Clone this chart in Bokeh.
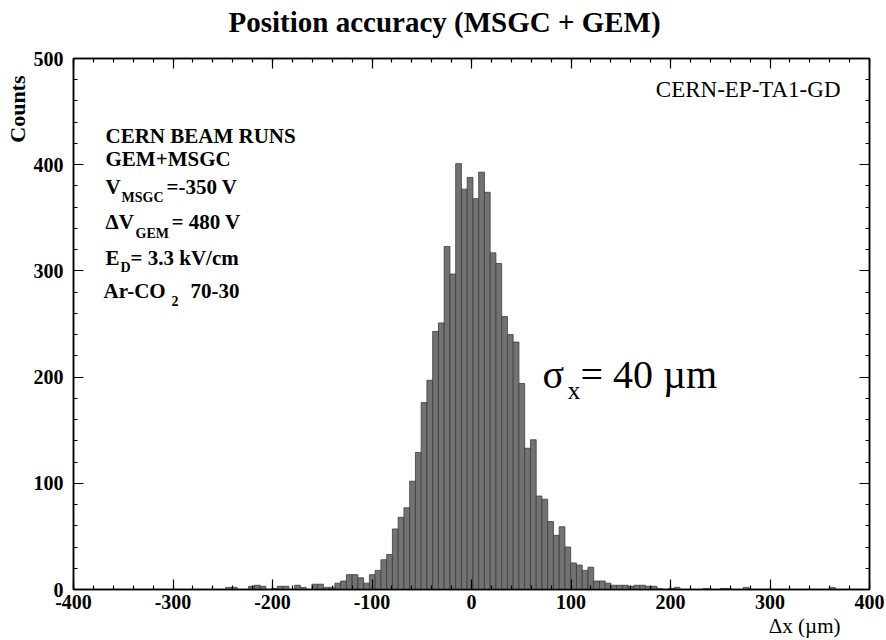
import math
from bokeh.plotting import figure
from bokeh.models import LinearAxis, SingleIntervalTicker, Label, Range1d, ColumnDataSource, Title
from bokeh.embed import file_html
from bokeh.resources import INLINE

# ---------------- data ----------------
BIN_FIRST_EDGE = -247.1   # µm, left edge of the first listed bin
BIN_WIDTH = 5.78          # µm
counts = [
    2, 2, 0, 0, 3, 4, 3, 0, 1, 3,          # k = -40 .. -31
    3, 0, 4, 2, 0, 5, 5, 2, 2, 6,          # k = -30 .. -21
    8, 14, 14, 11, 6, 14, 18, 28, 33, 57,  # k = -20 .. -11
    68, 77, 102, 129, 176, 197, 243, 251, 323, 297,  # k = -10 .. -1
    401, 377, 388, 368, 393, 374, 317, 307, 257, 240,  # k = 0 .. 9
    233, 194, 133, 141, 88, 85, 64, 51, 59, 40,        # k = 10 .. 19
    25, 23, 18, 21, 8, 8, 6, 4, 4, 4,                  # k = 20 .. 29
    3, 4, 4, 3, 3, 1, 0, 1, 2, 0,                      # k = 30 .. 39
    0, 0, 0, 1, 0, 0, 1, 1, 0, 0,                      # k = 40 .. 49
    2, 0, 0, 0, 0, 0, 0, 0, 0, 0,                      # k = 50 .. 59
    0, 0, 0, 0, 0, 2,                                  # k = 60 .. 65
]
x_ticks = [-400, -300, -200, -100, 0, 100, 200, 300, 400]
y_ticks = [0, 100, 200, 300, 400, 500]
x_tick_labels = ["-400", "-300", "-200", "-100", "0", "100", "200", "300", "400"]
title_text = "Position accuracy (MSGC + GEM)"
x_label = "\u0394x (\u00b5m)"
y_label = "Counts"
tag_text = "CERN-EP-TA1-GD"

lefts = [BIN_FIRST_EDGE + i * BIN_WIDTH for i in range(len(counts))]
rights = [l + BIN_WIDTH for l in lefts]
src = ColumnDataSource(dict(left=lefts, right=rights, top=counts, bottom=[0] * len(counts)))

# ---------------- layout ----------------
W, H = 886, 640
BL, BR, BT, BB = 73, 17, 58, 51
XMIN, XMAX, YMIN, YMAX = -400, 400, 0, 500
FW, FH = W - BL - BR, H - BT - BB
TEXT_DY = -10   # empirical correction of label baselines (pixels)

def X(px):
    return (px - BL) * (XMAX - XMIN) / FW + XMIN

def Y(py):
    return (H - BB - (py + TEXT_DY)) * (YMAX - YMIN) / FH + YMIN

p = figure(width=W, height=H, x_range=Range1d(XMIN, XMAX), y_range=Range1d(YMIN, YMAX),
           output_backend="svg", toolbar_location=None, title=None,
           min_border_left=BL, min_border_right=BR, min_border_top=BT, min_border_bottom=BB)
p.background_fill_color = "white"
p.border_fill_color = "white"
p.xgrid.visible = False
p.ygrid.visible = False
p.outline_line_color = "black"
p.outline_line_width = 1.5

p.quad(left="left", right="right", top="top", bottom="bottom", source=src,
       fill_color="#727272", line_color="#3c3c3c", line_width=0.8)

SERIF = "Liberation Serif"

def style_axis(ax, ticks, show_labels):
    ax.ticker = SingleIntervalTicker(interval=100, num_minor_ticks=5)
    ax.axis_line_width = 1.5
    ax.axis_line_color = "black"
    ax.major_tick_in = 10
    ax.major_tick_out = 0
    ax.minor_tick_in = 4
    ax.minor_tick_out = 0
    ax.major_tick_line_width = 1.2
    ax.minor_tick_line_width = 1.2
    ax.major_tick_line_color = "black"
    ax.minor_tick_line_color = "black"
    if show_labels:
        ax.major_label_text_font = SERIF
        ax.major_label_text_font_style = "bold"
        ax.major_label_text_font_size = "20px"
        ax.major_label_text_color = "black"
    else:
        ax.major_label_overrides = {t: "" for t in ticks}
        ax.major_label_standoff = 0

xa = p.xaxis[0]
ya = p.yaxis[0]
style_axis(xa, x_ticks, True)
style_axis(ya, y_ticks, True)
xa.major_label_overrides = dict(zip(x_ticks, x_tick_labels))
xa.major_label_standoff = 5
ya.major_label_standoff = 10

top_ax = LinearAxis()
style_axis(top_ax, x_ticks, False)
p.add_layout(top_ax, "above")
right_ax = LinearAxis()
style_axis(right_ax, y_ticks, False)
p.add_layout(right_ax, "right")

# invisible spacer between the frame and the title
spacer = LinearAxis(ticker=SingleIntervalTicker(interval=100, num_minor_ticks=0),
                    major_label_overrides={t: "" for t in x_ticks},
                    major_label_standoff=0, axis_line_color=None,
                    major_tick_line_color=None, minor_tick_line_color=None,
                    major_tick_in=0, major_tick_out=21, minor_tick_in=0, minor_tick_out=0)
p.add_layout(spacer, "above")

# title and axis titles as side-panel titles
p.add_layout(Title(text=title_text, align="left", offset=155, standoff=0,
                   text_font=SERIF, text_font_style="bold", text_font_size="29px",
                   text_color="black"), "above")
p.add_layout(Title(text=x_label, align="right", offset=29, standoff=0,
                   text_font=SERIF, text_font_style="normal", text_font_size="21px",
                   text_color="black"), "below")
p.add_layout(Title(text=y_label, align="right", offset=17, standoff=2,
                   text_font=SERIF, text_font_style="bold", text_font_size="22px",
                   text_color="black"), "left")

def lab(px, py, text, size, bold=False, align="left", baseline="alphabetic", angle=0.0):
    p.add_layout(Label(x=X(px), y=Y(py), text=text, text_font=SERIF,
                       text_font_style="bold" if bold else "normal",
                       text_font_size=f"{size}px", text_color="black",
                       text_align=align, text_baseline=baseline, angle=angle))

# tag
lab(840, 99, tag_text, 23, align="right")

# info block
lab(105, 145, "CERN BEAM RUNS", 21, bold=True)
lab(105, 168, "GEM+MSGC", 21, bold=True)
lab(105, 196, "V", 21, bold=True)
lab(121, 207, "MSGC", 14, bold=True)
lab(166, 196, "=-350 V", 21, bold=True)
lab(105, 231, "\u0394V", 21, bold=True)
lab(135, 243, "GEM", 14, bold=True)
lab(171, 231, "= 480 V", 21, bold=True)
lab(105, 267, "E", 21, bold=True)
lab(120, 277, "D", 14, bold=True)
lab(130, 267, "= 3.3 kV/cm", 21, bold=True)
lab(103, 300, "Ar-CO", 21, bold=True)
lab(171, 310, "2", 14, bold=True)
lab(190, 300, "70-30", 21, bold=True)

# sigma annotation
lab(542, 384, "\u03c3", 40)
lab(567, 400, "x", 26)
lab(580, 384, "= 40 \u00b5m", 40)

open("out.html", "w").write(file_html(p, INLINE))
